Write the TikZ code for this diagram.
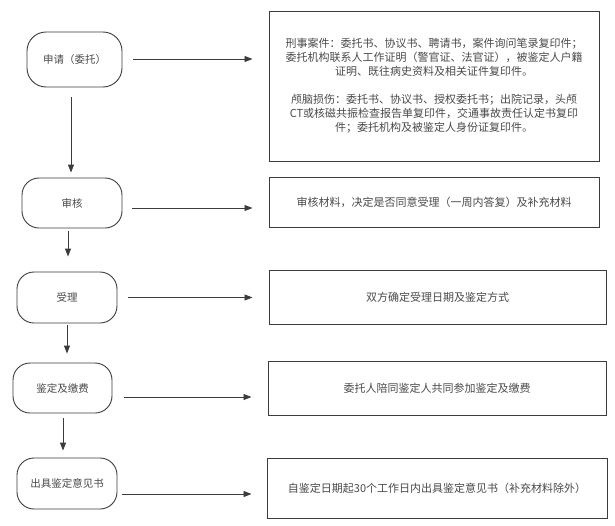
\documentclass[tikz,border=0pt]{standalone}
\usepackage{fontspec}
\setmainfont{Noto Sans CJK SC}
\usetikzlibrary{arrows.meta}
\definecolor{linec}{HTML}{3C3C3C}
\definecolor{textc}{HTML}{4A4A4A}
\tikzset{
  stepnode/.style={draw=linec, line width=0.9pt, rounded corners=17pt, minimum width=#1, minimum height=50pt, inner sep=0pt, text=textc, font=\fontsize{10.5}{13}\selectfont},
  infobox/.style={draw=linec, line width=1pt, inner sep=0pt, text=textc, font=\fontsize{11}{14}\selectfont, align=center},
  arr/.style={draw=linec, line width=0.9pt, -{Triangle[length=8pt,width=6pt]}}
}
\begin{document}
\begin{tikzpicture}[x=1pt,y=-1pt]
\useasboundingbox[fill=white] (0,0) rectangle (615,525);

\node[stepnode=95pt, minimum height=55pt, rounded corners=19pt] (n1) at (74.5,59.5) {申请（委托）};
\node[stepnode=100pt] (n2) at (72,203) {审核};
\node[stepnode=100pt, minimum height=51pt] (n3) at (67,297.5) {受理};
\node[stepnode=99pt] (n4) at (62.5,388) {鉴定及缴费};
\node[stepnode=100pt, minimum height=51pt] (n5) at (67,483.5) {出具鉴定意见书};

\node[infobox, minimum width=330pt, minimum height=150pt] (b1) at (434,86) {%
刑事案件：委托书、协议书、聘请书，案件询问笔录复印件；\\
委托机构联系人工作证明（警官证、法官证），被鉴定人户籍\\
证明、既往病史资料及相关证件复印件。\\[14pt]
颅脑损伤：委托书、协议书、授权委托书；出院记录，头颅\\
CT或核磁共振检查报告单复印件，交通事故责任认定书复印\\
件；委托机构及被鉴定人身份证复印件。};
\node[infobox, minimum width=330pt, minimum height=50pt] (b2) at (434,202) {审核材料，决定是否同意受理（一周内答复）及补充材料};
\node[infobox, minimum width=337pt, minimum height=54pt] (b3) at (437.5,297) {双方确定受理日期及鉴定方式};
\node[infobox, minimum width=338pt, minimum height=54pt] (b4) at (437,388) {委托人陪同鉴定人共同参加鉴定及缴费};
\node[infobox, minimum width=340pt, minimum height=60pt] (b5) at (437,488) {自鉴定日期起30个工作日内出具鉴定意见书（补充材料除外）};

% horizontal arrows
\draw[arr, shorten <=11pt, shorten >=16pt] ([yshift=0.5pt]n1.east) -- ([yshift=0.5pt]n1.east -| b1.west);
\draw[arr, shorten <=10pt, shorten >=16pt] ([yshift=-5pt]n2.east) -- ([yshift=-5pt]n2.east -| b2.west);
\draw[arr, shorten <=11pt, shorten >=16pt] (n3.east) -- (n3.east -| b3.west);
\draw[arr, shorten <=12pt, shorten >=16pt] ([yshift=-9pt]n4.east) -- ([yshift=-9pt]n4.east -| b4.west);
\draw[arr, shorten <=5pt, shorten >=15pt] ([yshift=-10.5pt]n5.east) -- ([yshift=-10.5pt]n5.east -| b5.west);

% vertical arrows
\draw[arr, shorten <=10pt, shorten >=5pt] ([xshift=-3.5pt]n1.south) -- ([xshift=-3.5pt]n1.south |- n2.north);
\draw[arr, shorten <=3pt, shorten >=15pt] ([xshift=-4pt]n2.south) -- ([xshift=-4pt]n2.south |- n3.north);
\draw[arr, shorten <=2pt, shorten >=9pt] (n3.south) -- (n3.south |- n4.north);
\draw[arr, shorten <=5pt, shorten >=7pt] ([xshift=0.5pt]n4.south) -- ([xshift=0.5pt]n4.south |- n5.north);
\end{tikzpicture}
\end{document}
